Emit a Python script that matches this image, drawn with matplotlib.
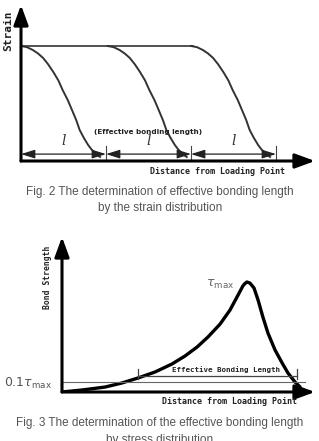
import matplotlib.pyplot as plt
import numpy as np

# Fig. 2: strain profile (x in units of l, strain relative to plateau)
strain_x = [0.0, 0.07, 0.14, 0.2, 0.26, 0.32, 0.38, 0.44, 0.49, 0.55, 0.6, 0.65, 0.69, 0.74, 0.79, 0.83, 0.87, 0.9, 0.93]
strain_y = [1.0, 0.99, 0.965, 0.935, 0.896, 0.84, 0.774, 0.70, 0.617, 0.53, 0.443, 0.355, 0.27, 0.2, 0.139, 0.1, 0.07, 0.05, 0.035]
curve_shift = [0.0, 1.02, 2.0]
plateau_end = 2.02
bond_ticks = [0, 1, 2, 3]

# Fig. 3: bond stress (x arbitrary distance, stress relative to tau_max)
bond_x = [0.0, 0.79, 1.7, 2.37, 3.0, 3.68, 4.35, 4.86, 5.34, 5.77, 6.25, 6.64, 6.96, 7.15, 7.23, 7.31,
          7.43, 7.59, 7.75, 7.94, 8.14, 8.42, 8.7, 8.93, 9.21, 9.41]
bond_y = [0.0, 0.018, 0.045, 0.082, 0.127, 0.182, 0.255, 0.327, 0.409, 0.5, 0.618, 0.745, 0.882, 0.964, 0.986, 1.0,
          0.99, 0.945, 0.836, 0.682, 0.536, 0.382, 0.264, 0.173, 0.091, 0.045]
tau_level = 0.09
eff_start, eff_end = 3.0, 9.29

W, H = 319, 441
fig = plt.figure(figsize=(W / 100, H / 100), dpi=100)


def px_axes(x0, y0, x1, y1):
    # axes from pixel origin (x0, y0) to top-right (x1, y1)
    return fig.add_axes([x0 / W, 1 - y0 / H, (x1 - x0) / W, (y0 - y1) / H])


def axis_arrows(ax):
    for s in ax.spines.values():
        s.set_visible(False)
    ax.set_xticks([])
    ax.set_yticks([])
    ax.patch.set_alpha(0)
    st = '-|>,head_length=0.6,head_width=0.22'
    for xy in [(0, 1), (1, 0)]:
        ax.annotate('', xy=xy, xytext=(0, 0), xycoords='axes fraction',
                    arrowprops=dict(arrowstyle=st, lw=2.2, color='k', mutation_scale=20,
                                    shrinkA=0, shrinkB=0))


mono = dict(family='DejaVu Sans Mono', fontweight='bold', color='#222222')
cap = dict(family='Liberation Sans', fontsize=8.5, color='#555555', ha='center')

# ---- top chart
ax1 = px_axes(21, 161, 315, 5)
ax1.set_xlim(0, 294 / 85)
ax1.set_ylim(0, 156 / 115)
axis_arrows(ax1)
ax1.plot([0, plateau_end], [1, 1], color='#444444', lw=1.3)
for s in curve_shift:
    ax1.plot(np.array(strain_x) + s, strain_y, color='#333333', lw=1.4)
for t in bond_ticks[1:]:
    ax1.plot([t, t], [0.01, 0.13], color='#444444', lw=0.8)
for a, b in zip(bond_ticks[:-1], bond_ticks[1:]):
    ax1.annotate('', xy=(b, 0.06), xytext=(a, 0.06),
                 arrowprops=dict(arrowstyle='<|-|>,head_length=0.7,head_width=0.22', lw=0.9,
                                 color='#222222', mutation_scale=12, shrinkA=0, shrinkB=0))
    ax1.text((a + b) / 2 - 0.0, 0.11, 'l', family='DejaVu Serif', style='italic',
             fontsize=10, ha='center', va='bottom', color='#333333')
ax1.text(1.49, 0.25, '(Effective bonding length)', family='DejaVu Sans', fontweight='bold',
         fontsize=5.2, ha='center', va='center', color='#222222')

fig.text(8 / W, 1 - 31 / H, 'Strain', rotation=90, fontsize=8, ha='center', va='center', **mono)
fig.text(217 / W, 1 - 171 / H, 'Distance from Loading Point', fontsize=6, ha='center', va='center', **mono)
fig.text(160 / W, 1 - 192 / H, 'Fig. 2 The determination of effective bonding length', va='center', **cap)
fig.text(160 / W, 1 - 208 / H, 'by the strain distribution', va='center', **cap)

# ---- bottom chart
ax2 = px_axes(62, 392, 315, 237)
ax2.set_xlim(0, 253 / 25.3)
ax2.set_ylim(0, 155 / 110)
axis_arrows(ax2)
ax2.plot(bond_x, bond_y, color='k', lw=2.4, solid_capstyle='round', solid_joinstyle='round')
ax2.plot([0, 9.6], [tau_level, tau_level], color='#666666', lw=0.8)
ax2.plot([eff_start, eff_end], [0.145, 0.145], color='#444444', lw=0.9)
for t in [eff_start, eff_end]:
    ax2.plot([t, t], [0.12, 0.21], color='#444444', lw=0.9)
ax2.text(6.5, 0.2, 'Effective Bonding Length', fontsize=5.4, ha='center', va='center', **mono)
ax2.text(6.8, 0.98, r'$\tau_{\rm max}$', fontsize=9, ha='right', va='center', color='#666666')

fig.text(4 / W, 1 - 383 / H, r'$0.1\tau_{\rm max}$', fontsize=9, ha='left', va='center', color='#555555')
fig.text(48 / W, 1 - 277 / H, 'Bond Strength', rotation=90, fontsize=5.8, ha='center', va='center', **mono)
fig.text(230 / W, 1 - 402 / H, 'Distance from Loading Point', fontsize=6, ha='center', va='center', **mono)
fig.text(160 / W, 1 - 423 / H, 'Fig. 3 The determination of the effective bonding length', va='center', **cap)
fig.text(160 / W, 1 - 434 / H, 'by stress distribution', va='top', **cap)

fig.savefig('out.png', dpi=100)
